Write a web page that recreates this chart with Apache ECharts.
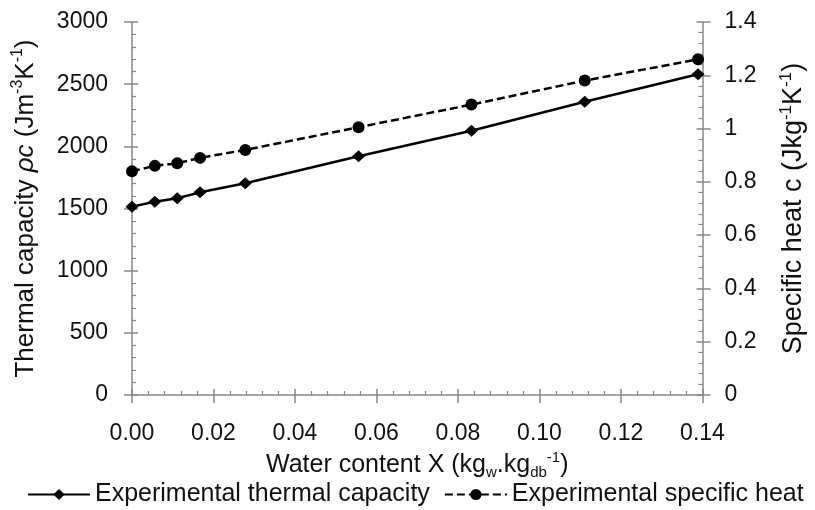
<!DOCTYPE html>
<html>
<head>
<meta charset="utf-8">
<script src="https://cdn.jsdelivr.net/npm/echarts@6/dist/echarts.min.js"></script>
<style>html,body{margin:0;padding:0;background:#fff}#c{width:815px;height:510px}</style>
</head>
<body>
<div id="c"></div>
<script>
const waterContent = [0, 0.0056, 0.0111, 0.0167, 0.0278, 0.0556, 0.0833, 0.1111, 0.1389];
const thermalCapacity = [1515, 1555, 1582, 1630, 1703, 1920, 2126, 2359, 2580];
const specificHeat = [0.84, 0.86, 0.87, 0.89, 0.92, 1.005, 1.09, 1.18, 1.26];
const seriesNames = ['Experimental thermal capacity', 'Experimental specific heat'];

const FONT = '"Liberation Sans", Arial, sans-serif';
const AX = '#868686';
const TXT = '#111';
const FS = 23;   // tick labels
const FT = 25;   // x title and legend

const chart = echarts.init(document.getElementById('c'), null, {renderer: 'canvas'});

function makeRich(size, supSize) {
  const lh = size + 5;
  return {
    b: {fontSize: size, fontFamily: FONT, color: TXT, lineHeight: lh},
    it: {fontSize: size, fontFamily: FONT, color: TXT, fontStyle: 'italic', lineHeight: lh},
    sup: {fontSize: supSize, fontFamily: FONT, color: TXT, verticalAlign: 'top', lineHeight: lh, padding: [0, 0, Math.round(size * 0.4), 0]},
    sub: {fontSize: supSize, fontFamily: FONT, color: TXT, verticalAlign: 'bottom', lineHeight: lh, padding: [Math.round(size * 0.44), 0, 0, 0]}
  };
}

function mainAxis(extra, rich) {
  return Object.assign({
    type: 'value',
    axisLine: {show: true, lineStyle: {color: AX, width: 1.5}},
    axisTick: {show: true, inside: true, length: 6, lineStyle: {color: AX, width: 1.5}},
    minorTick: {show: true, splitNumber: 5, length: 4, lineStyle: {color: AX, width: 1.2}},
    splitLine: {show: false},
    minorSplitLine: {show: false},
    nameLocation: 'middle',
    nameTextStyle: {rich: rich}
  }, extra);
}
function tickAxis(extra) {
  return Object.assign({
    type: 'value',
    axisLine: {show: false},
    axisTick: {show: true, inside: false, length: 8, lineStyle: {color: AX, width: 1.5}},
    minorTick: {show: false},
    splitLine: {show: false},
    axisLabel: {show: false}
  }, extra);
}

const option = {
  backgroundColor: '#fff',
  animation: false,
  grid: {left: 132, right: 102, top: 22, bottom: 115, containLabel: false},
  legend: {
    left: 27, top: 482, padding: 0,
    itemWidth: 62, itemHeight: 14, itemGap: 14,
    textStyle: {fontSize: FT, fontFamily: FONT, color: TXT},
    data: seriesNames
  },
  xAxis: [
    mainAxis({
      min: 0, max: 0.14, interval: 0.02,
      axisLabel: {fontSize: FS, fontFamily: FONT, color: TXT, margin: 27, formatter: v => v.toFixed(2)},
      name: '{b|Water content X (kg}{sub|w}{b|.kg}{sub|db}{sup|-1}{b|)}',
      nameGap: 51
    }, makeRich(FT, 15)),
    tickAxis({min: 0, max: 0.14, interval: 0.02, position: 'bottom'})
  ],
  yAxis: [
    mainAxis({
      position: 'left', min: 0, max: 3000, interval: 500,
      axisLabel: {fontSize: FS, fontFamily: FONT, color: TXT, margin: 24, formatter: v => String(v)},
      name: '{b|Thermal capacity }{it|ρc}{b| (Jm}{sup|-3}{b|K}{sup|-1}{b|)}',
      nameGap: 91
    }, makeRich(26, 16)),
    tickAxis({position: 'left', min: 0, max: 3000, interval: 500}),
    mainAxis({
      position: 'right', min: 0, max: 1.4, interval: 0.2,
      axisLabel: {fontSize: FS, fontFamily: FONT, color: TXT, margin: 22},
      name: '{b|Specific heat c (Jkg}{sup|-1}{b|K}{sup|-1}{b|)}',
      nameGap: 75
    }, makeRich(27, 17)),
    tickAxis({position: 'right', min: 0, max: 1.4, interval: 0.2})
  ],
  series: [
    {
      name: seriesNames[0], type: 'line', xAxisIndex: 0, yAxisIndex: 0,
      data: waterContent.map((x, i) => [x, thermalCapacity[i]]),
      symbol: 'diamond', symbolSize: [13, 12],
      lineStyle: {color: '#000', width: 2.5, type: 'solid'},
      itemStyle: {color: '#000'},
      z: 3
    },
    {
      name: seriesNames[1], type: 'line', xAxisIndex: 0, yAxisIndex: 2,
      data: waterContent.map((x, i) => [x, specificHeat[i]]),
      symbol: 'circle', symbolSize: 12,
      lineStyle: {color: '#000', width: 2.5, type: [8, 4]},
      itemStyle: {color: '#000'},
      z: 3
    }
  ]
};
chart.setOption(option);
</script>
</body>
</html>
